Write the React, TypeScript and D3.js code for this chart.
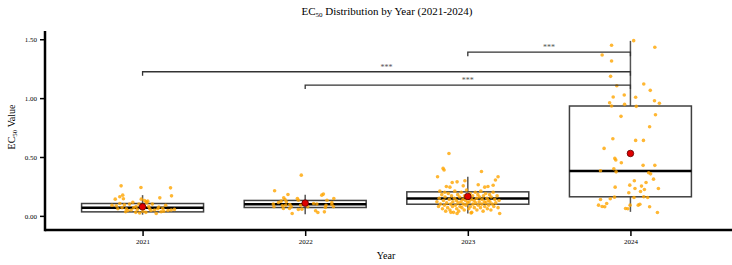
import React, { useRef, useEffect } from 'react';
import * as d3 from 'd3';

// categories + box summary stats
const years = ['2021', '2022', '2023', '2024'];
const whiskerLow = [0.01, 0.014, 0.02, 0.034];
const q1 = [0.034, 0.071, 0.099, 0.162];
const median = [0.068, 0.099, 0.148, 0.38];
const q3 = [0.105, 0.131, 0.204, 0.933];
const whiskerHigh = [0.176, 0.18, 0.332, 1.486];
const mean = [0.077, 0.108, 0.165, 0.53];

// significance brackets
const sigFrom = ['2023', '2021', '2022'];
const sigTo = ['2024', '2024', '2024'];
const sigLevel = [1.39, 1.224, 1.111];
const sigLabel = ['***', '***', '***'];

const yTicks = [0, 0.5, 1, 1.5];

// individual points: [jitter (-1..1), EC50]
const pts2021: [number, number][] = [
  [-0.66, 0.255], [-0.05, 0.241], [0.86, 0.238], [-0.61, 0.176], [-0.7, 0.162], [-0.59, 0.145],
  [-0.84, 0.142], [0.53, 0.153], [0.89, 0.17], [-0.04, 0.142], [-0.94, 0.09], [-0.81, 0.085],
  [-0.76, 0.06], [-0.63, 0.07], [-0.56, 0.095], [-0.52, 0.035], [-0.45, 0.045], [-0.4, 0.1],
  [-0.35, 0.05], [-0.27, 0.07], [-0.21, 0.03], [-0.16, 0.055], [-0.11, 0.1], [-0.09, 0.025],
  [0.01, 0.04], [0.06, 0.13], [0.11, 0.12], [0.13, 0.11], [0.16, 0.125], [0.19, 0.08],
  [0.26, 0.045], [0.37, 0.05], [0.42, 0.02], [0.47, 0.06], [0.57, 0.035], [0.62, 0.065],
  [0.71, 0.09], [0.78, 0.045], [0.88, 0.05], [0.98, 0.055], [-0.3, 0.115], [0.3, 0.1],
  [-0.7, 0.105], [0.05, 0.07], [0.22, 0.06], [-0.2, 0.08], [0.5, 0.075], [0.1, 0.03],
  [-0.5, 0.06], [0.65, 0.04],
];

const pts2022: [number, number][] = [
  [-0.12, 0.346], [-0.94, 0.213], [-0.53, 0.182], [0.51, 0.176], [0.56, 0.185], [-0.66, 0.153],
  [-0.62, 0.139], [-0.74, 0.125], [-0.58, 0.119], [-0.24, 0.148], [-0.21, 0.133], [0.88, 0.148],
  [0.67, 0.133], [0.82, 0.114], [-0.82, 0.114], [-0.98, 0.1], [-0.96, 0.077], [-0.7, 0.085],
  [-0.67, 0.063], [-0.47, 0.097], [-0.43, 0.077], [-0.48, 0.063], [0, 0.1], [0.08, 0.077],
  [-0.14, 0.09], [-0.21, 0.054], [-0.1, 0.057], [0.26, 0.105], [0.36, 0.1], [0.62, 0.071],
  [0.64, 0.09], [0.87, 0.077], [0.82, 0.097], [0.32, 0.043], [0.39, 0.029], [0.59, 0.034],
  [-0.4, 0.02], [-0.6, 0.09],
];

const pts2023: [number, number][] = [
  [-0.58, 0.53], [-0.76, 0.403], [-0.73, 0.389], [0.42, 0.377], [-0.93, 0.332], [0.93, 0.332],
  [0.85, 0.304], [-0.48, 0.284], [-0.33, 0.289], [-0.14, 0.255], [-0.09, 0.298], [0.32, 0.264],
  [0.52, 0.244], [0.62, 0.25], [0.78, 0.26], [-0.66, 0.25], [-0.55, 0.244], [-0.86, 0.21],
  [-0.71, 0.2], [-0.95, 0.12], [-0.9, 0.08], [-0.88, 0.15], [-0.84, 0.1], [-0.8, 0.18],
  [-0.78, 0.06], [-0.75, 0.13], [-0.72, 0.09], [-0.7, 0.16], [-0.68, 0.04], [-0.65, 0.11],
  [-0.62, 0.07], [-0.6, 0.19], [-0.57, 0.14], [-0.55, 0.05], [-0.53, 0.1], [-0.5, 0.17],
  [-0.47, 0.08], [-0.46, 0.12], [-0.44, 0.03], [-0.41, 0.15], [-0.4, 0.21], [-0.38, 0.09],
  [-0.35, 0.13], [-0.34, 0.06], [-0.31, 0.18], [-0.3, 0.11], [-0.28, 0.04], [-0.25, 0.16],
  [-0.24, 0.08], [-0.21, 0.12], [-0.2, 0.2], [-0.18, 0.07], [-0.15, 0.14], [-0.14, 0.1],
  [-0.11, 0.05], [-0.1, 0.17], [-0.07, 0.13], [-0.06, 0.09], [-0.04, 0.22], [-0.01, 0.11],
  [0.0, 0.15], [0.03, 0.06], [0.04, 0.12], [0.07, 0.19], [0.08, 0.08], [0.11, 0.14],
  [0.12, 0.03], [0.15, 0.17], [0.16, 0.1], [0.19, 0.13], [0.2, 0.07], [0.23, 0.2],
  [0.24, 0.11], [0.27, 0.15], [0.28, 0.05], [0.31, 0.18], [0.32, 0.09], [0.35, 0.12],
  [0.36, 0.16], [0.39, 0.07], [0.4, 0.21], [0.43, 0.1], [0.44, 0.14], [0.47, 0.04],
  [0.48, 0.17], [0.51, 0.12], [0.52, 0.08], [0.55, 0.19], [0.56, 0.11], [0.59, 0.15],
  [0.6, 0.06], [0.63, 0.13], [0.64, 0.09], [0.67, 0.18], [0.68, 0.12], [0.71, 0.05],
  [0.72, 0.16], [0.75, 0.1], [0.78, 0.2], [0.8, 0.08], [0.83, 0.14], [0.86, 0.11],
  [0.9, 0.17], [0.93, 0.07], [0.96, 0.13], [0.98, 0.02], [-0.33, 0.02], [-0.52, 0.03],
  [0.1, 0.025],
];

const pts2024: [number, number][] = [
  [0.1, 1.488], [0.75, 1.432], [-0.58, 1.449], [-0.87, 1.366], [-0.58, 1.315], [-0.61, 1.185],
  [-0.42, 1.105], [0.41, 1.12], [0.61, 1.066], [-0.53, 1.009], [-0.19, 1.026], [0.16, 1.007],
  [0.74, 0.978], [0.89, 0.956], [-0.64, 0.961], [-0.58, 0.933], [-0.18, 0.947], [0.18, 0.93],
  [0.77, 0.859], [-0.29, 0.845], [0.59, 0.757], [0.16, 0.641], [0.4, 0.641], [-0.54, 0.655],
  [-0.81, 0.573], [-0.48, 0.488], [-0.45, 0.474], [-0.28, 0.451], [0.39, 0.429], [0.75, 0.429],
  [-0.51, 0.4], [-0.92, 0.383], [-0.44, 0.374], [0.56, 0.366], [0.62, 0.357], [0.71, 0.312],
  [0.12, 0.298], [0.48, 0.284], [-0.02, 0.261], [0.34, 0.253], [-0.47, 0.244], [0.86, 0.233],
  [0.43, 0.224], [0.14, 0.233], [-0.05, 0.196], [0.31, 0.207], [0.41, 0.162], [0.53, 0.156],
  [0.11, 0.156], [-0.49, 0.159], [-0.62, 0.145], [-0.92, 0.139], [-0.73, 0.105], [-0.98, 0.091],
  [-0.87, 0.08], [-0.79, 0.077], [0.24, 0.091], [0.29, 0.099], [0.59, 0.077], [-0.15, 0.063],
  [-0.08, 0.06], [-0.01, 0.091], [0.83, 0.029],
];

const pointsByYear = [pts2021, pts2022, pts2023, pts2024];

const width = 732;
const height = 265;
const margin = { top: 31, right: 4, bottom: 35, left: 45 };
const font = '"Liberation Serif", "Times New Roman", serif';

const App = () => {
  const xAxisRef = useRef<SVGGElement>(null);
  const yAxisRef = useRef<SVGGElement>(null);

  const x = d3.scalePoint<string>()
    .domain(years)
    .range([margin.left, width - margin.right])
    .padding(0.6);
  const step = x.step();

  const y = d3.scaleLinear()
    .domain([-0.12, 1.57])
    .range([height - margin.bottom, margin.top]);

  // jitter fraction -> pixel offset
  const jitter = d3.scaleLinear().domain([-1, 1]).range([-0.2 * step, 0.2 * step]);
  const boxHalf = 0.375 * step;

  useEffect(() => {
    const xg = d3.select(xAxisRef.current!);
    xg.call(d3.axisBottom(x).tickSize(6).tickSizeOuter(0) as any);
    xg.select('.domain').remove();
    xg.selectAll('line').attr('stroke', '#000').attr('stroke-width', 1.5);
    xg.selectAll('text').attr('font-family', font).attr('font-size', 7).attr('fill', '#000');

    const yg = d3.select(yAxisRef.current!);
    yg.call(
      d3.axisLeft(y).tickValues(yTicks).tickFormat(d3.format('.2f') as any).tickSize(5).tickSizeOuter(0) as any
    );
    yg.select('.domain').remove();
    yg.selectAll('line').attr('stroke', '#000').attr('stroke-width', 1.5);
    yg.selectAll('text').attr('font-family', font).attr('font-size', 7).attr('fill', '#000');
  }, []);

  const x0 = margin.left;
  const yBase = height - margin.bottom;

  return (
    <svg width={width} height={height} style={{ position: 'absolute', left: 0, top: 0, background: '#fff' }}>
      {/* title */}
      <text x={387} y={15} textAnchor="middle" fontFamily={font} fontSize={11} fill="#000">
        <tspan>EC</tspan>
        <tspan fontSize={7} dy={2}>50</tspan>
        <tspan dy={-2}> Distribution by Year (2021-2024)</tspan>
      </text>

      {/* boxes */}
      {years.map((yr, i) => {
        const cx = x(yr)!;
        return (
          <g key={yr}>
            <line x1={cx} x2={cx} y1={y(whiskerHigh[i])} y2={y(q3[i])} stroke="#555" strokeWidth={1.5} />
            <line x1={cx} x2={cx} y1={y(q1[i])} y2={y(whiskerLow[i])} stroke="#555" strokeWidth={1.5} />
            <rect
              x={cx - boxHalf}
              y={y(q3[i])}
              width={boxHalf * 2}
              height={y(q1[i]) - y(q3[i])}
              fill="#fff"
              stroke="#404040"
              strokeWidth={1.5}
            />
            <line
              x1={cx - boxHalf}
              x2={cx + boxHalf}
              y1={y(median[i])}
              y2={y(median[i])}
              stroke="#000"
              strokeWidth={2.5}
            />
          </g>
        );
      })}

      {/* jittered points */}
      {years.map((yr, i) => (
        <g key={'p' + yr}>
          {pointsByYear[i].map(([j, v], k) => (
            <circle key={k} cx={x(yr)! + jitter(j)} cy={y(v)} r={1.8} fill="#FFA500" fillOpacity={0.8} />
          ))}
        </g>
      ))}

      {/* means */}
      {years.map((yr, i) => (
        <circle key={'m' + yr} cx={x(yr)!} cy={y(mean[i])} r={3.3} fill="#E00000" stroke="#5a0000" strokeWidth={0.8} />
      ))}

      {/* significance brackets */}
      {sigFrom.map((from, i) => {
        const xa = x(from)!;
        const xb = x(sigTo[i])!;
        const yy = y(sigLevel[i]);
        return (
          <g key={'s' + i}>
            <path
              d={`M${xa},${yy + 4}V${yy}H${xb}V${yy + 4}`}
              fill="none"
              stroke="#333"
              strokeWidth={1.3}
            />
            <text x={(xa + xb) / 2} y={yy - 2} textAnchor="middle" fontFamily={font} fontSize={8} fill="#555">
              {sigLabel[i]}
            </text>
          </g>
        );
      })}

      {/* axes */}
      <g ref={xAxisRef} transform={`translate(0,${yBase})`} />
      <g ref={yAxisRef} transform={`translate(${x0},0)`} />
      <line x1={x0} x2={width} y1={yBase} y2={yBase} stroke="#000" strokeWidth={2.5} />
      <line x1={x0} x2={x0} y1={margin.top} y2={yBase + 1.25} stroke="#000" strokeWidth={2.5} />

      {/* axis titles */}
      <text x={386} y={259} textAnchor="middle" fontFamily={font} fontSize={10} fill="#000">
        Year
      </text>
      <text
        transform={`translate(15,${127}) rotate(-90)`}
        textAnchor="middle"
        fontFamily={font}
        fontSize={10}
        fill="#000"
      >
        <tspan>EC</tspan>
        <tspan fontSize={7} dy={2}>50</tspan>
        <tspan dy={-2}> Value</tspan>
      </text>
    </svg>
  );
};

export default App;
